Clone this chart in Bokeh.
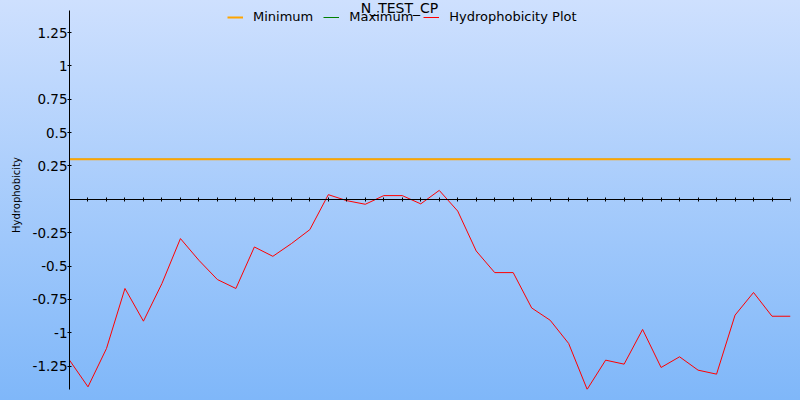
from bokeh.plotting import figure
from bokeh.models import (Range1d, LinearAxis, FixedTicker, CustomJSTickFormatter,
                          Legend, LegendItem, Label, GlobalInlineStyleSheet)
from bokeh.embed import file_html
from bokeh.resources import INLINE

title_text = "N_TEST_CP"
y_label = "Hydrophobicity"
series_names = ["Minimum", "Maximum", "Hydrophobicity Plot"]
positions = list(range(40))
hydro = [-1.205, -1.405, -1.118, -0.668, -0.913, -0.631, -0.294, -0.457, -0.601, -0.668,
         -0.357, -0.427, -0.332, -0.227, 0.035, -0.01, -0.037, 0.028, 0.028, -0.034,
         0.067, -0.088, -0.387, -0.549, -0.549, -0.814, -0.906, -1.08, -1.424, -1.205,
         -1.235, -0.975, -1.26, -1.18, -1.28, -1.31, -0.868, -0.698, -0.876, -0.876]
minimum = 0.3
maximum = 0.3
y_ticks = [-1.25, -1, -0.75, -0.5, -0.25, 0.25, 0.5, 0.75, 1, 1.25]
y_axis_bounds = (-1.425, 1.415)

FONT = "DejaVu Sans"

p = figure(width=800, height=400, output_backend="svg", toolbar_location=None,
           x_range=Range1d(0, 39), y_range=Range1d(-1.425, 1.49),
           x_axis_type=None, y_axis_type=None,
           min_border_left=69, min_border_right=10, min_border_top=0, min_border_bottom=11)
p.background_fill_color = None
p.border_fill_color = None
p.outline_line_color = None
p.xgrid.visible = False
p.ygrid.visible = False
p.stylesheets = [GlobalInlineStyleSheet(
    css="html{height:100%;background:linear-gradient(to bottom,#cee0fe 0%,#7fb7f9 100%);}")]

yaxis = LinearAxis(ticker=FixedTicker(ticks=y_ticks), bounds=y_axis_bounds,
                   formatter=CustomJSTickFormatter(code="return tick.toString();"))
yaxis.axis_label = y_label
yaxis.axis_label_text_font = FONT
yaxis.axis_label_text_font_size = "10px"
yaxis.axis_label_text_font_style = "normal"
yaxis.axis_label_text_color = "black"
yaxis.axis_label_standoff = 8
yaxis.major_label_text_font = FONT
yaxis.major_label_text_font_size = "13.5px"
yaxis.major_label_text_color = "black"
yaxis.major_label_standoff = 0
yaxis.major_tick_in = 2
yaxis.major_tick_out = 2
yaxis.minor_tick_in = 0
yaxis.minor_tick_out = 0
yaxis.axis_line_color = "black"
yaxis.major_tick_line_color = "black"
p.add_layout(yaxis, "left")

xaxis = LinearAxis(ticker=FixedTicker(ticks=positions), fixed_location=0,
                   formatter=CustomJSTickFormatter(code="return '';"))
xaxis.major_label_text_font_size = "0px"
xaxis.major_label_standoff = 0
xaxis.major_tick_in = 2
xaxis.major_tick_out = 2
xaxis.minor_tick_in = 0
xaxis.minor_tick_out = 0
xaxis.axis_line_color = "black"
xaxis.major_tick_line_color = "black"
p.add_layout(xaxis, "below")

r_max = p.line(x=[positions[0], positions[-1]], y=[maximum, maximum], line_color="#008000", line_width=1)
r_min = p.line(x=[positions[0], positions[-1]], y=[minimum, minimum], line_color="#ffa500", line_width=2)
r_h = p.line(x=positions, y=hydro, line_color="#ff0000", line_width=1)

legend = Legend(items=[LegendItem(label=series_names[0], renderers=[r_min]),
                       LegendItem(label=series_names[1], renderers=[r_max]),
                       LegendItem(label=series_names[2], renderers=[r_h])],
                orientation="horizontal", location=(158, 365),
                glyph_width=16, glyph_height=14, label_standoff=10, spacing=10,
                padding=0, margin=0, border_line_alpha=0, background_fill_alpha=0,
                label_text_font=FONT, label_text_font_size="13px", label_height=14,
                label_text_color="black")
p.add_layout(legend)

p.add_layout(Label(x=330, y=382, x_units="screen", y_units="screen", text=title_text,
                   text_align="center", text_baseline="alphabetic",
                   text_font=FONT, text_font_size="14px", text_color="black"))

open("out.html", "w").write(file_html(p, INLINE))
